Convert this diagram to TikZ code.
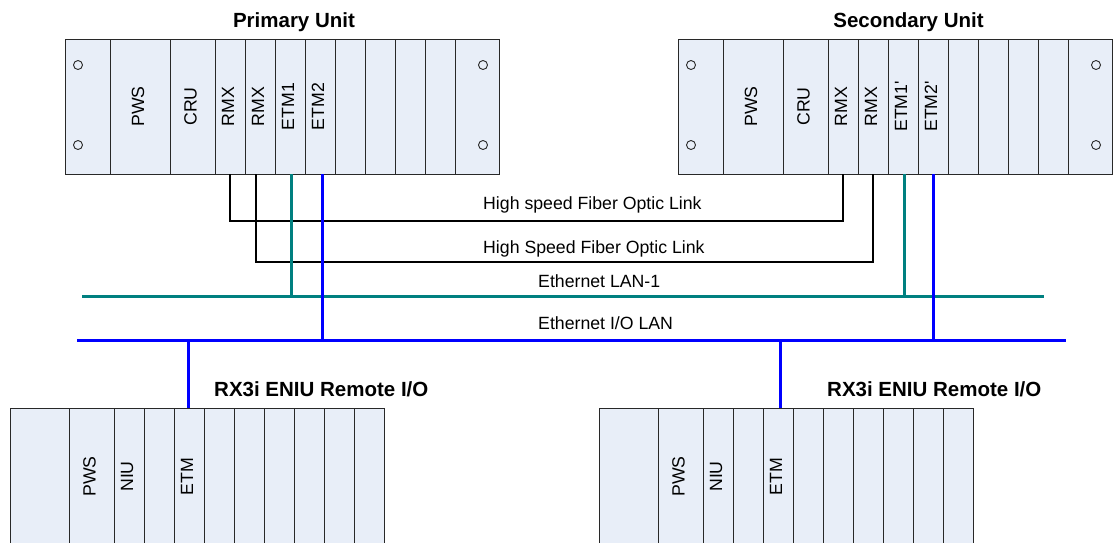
\documentclass[tikz,border=0pt]{standalone}
\usepackage{fontspec}
\setmainfont{Liberation Sans}
\definecolor{slotfill}{RGB}{232,238,248}
\definecolor{slotline}{RGB}{40,40,40}
\definecolor{lanteal}{RGB}{0,128,128}
\definecolor{lanblue}{RGB}{0,0,255}
\newcommand\vlab[1]{\rotatebox{90}{\strut #1}}
\tikzset{
  slot/.style={draw=slotline, fill=slotfill, line width=1pt, anchor=north west,
    inner sep=0pt, outer sep=0pt, minimum height=135pt,
    font=\fontsize{17.7}{20}\selectfont},
  rslot/.style={slot, minimum height=137pt},
  hole/.style={draw=slotline, line width=0.9pt},
  fiber/.style={draw=black, line width=2pt},
  lan1/.style={draw=lanteal, line width=3pt},
  iolan/.style={draw=lanblue, line width=3pt},
  linklab/.style={font=\fontsize{17.7}{20}\selectfont, inner sep=0pt, anchor=base west},
  unittitle/.style={font=\fontsize{20.5}{24}\selectfont\bfseries, inner sep=0pt}
}
\begin{document}
\begin{tikzpicture}[x=1pt,y=-1pt]
\clip (0,0) rectangle (1115,542);
\fill[white] (0,0) rectangle (1115,542);

% ---------- Primary unit ----------
\node[slot, minimum width=45pt] (p1) at (65,39) {};
\node[slot, minimum width=60pt] (p2) at (110,39) {\vlab{PWS}};
\node[slot, minimum width=45pt] (p3) at (170,39) {\vlab{CRU}};
\node[slot, minimum width=30pt] (p4) at (215,39) {\vlab{RMX}};
\node[slot, minimum width=30pt] (p5) at (245,39) {\vlab{RMX}};
\node[slot, minimum width=30pt] (p6) at (275,39) {\vlab{ETM1}};
\node[slot, minimum width=30pt] (p7) at (305,39) {\vlab{ETM2}};
\foreach \i/\x in {8/335,9/365,10/395,11/425}
  \node[slot, minimum width=30pt] (p\i) at (\x,39) {};
\node[slot, minimum width=44pt] (p12) at (455,39) {};
\foreach \x in {78,483} \foreach \y in {65,145} \draw[hole] (\x,\y) circle[radius=4.5pt];

% ---------- Secondary unit ----------
\node[slot, minimum width=45pt] (s1) at (678,39) {};
\node[slot, minimum width=60pt] (s2) at (723,39) {\vlab{PWS}};
\node[slot, minimum width=45pt] (s3) at (783,39) {\vlab{CRU}};
\node[slot, minimum width=30pt] (s4) at (828,39) {\vlab{RMX}};
\node[slot, minimum width=30pt] (s5) at (858,39) {\vlab{RMX}};
\node[slot, minimum width=30pt] (s6) at (888,39) {\vlab{ETM1\textquotesingle}};
\node[slot, minimum width=30pt] (s7) at (918,39) {\vlab{ETM2\textquotesingle}};
\foreach \i/\x in {8/948,9/978,10/1008,11/1038}
  \node[slot, minimum width=30pt] (s\i) at (\x,39) {};
\node[slot, minimum width=44pt] (s12) at (1068,39) {};
\foreach \x in {691,1096} \foreach \y in {65,145} \draw[hole] (\x,\y) circle[radius=4.5pt];

% ---------- Remote I/O 1 ----------
\node[rslot, minimum width=59pt] (a1) at (10,408) {};
\node[rslot, minimum width=45pt] (a2) at (69,408) {\vlab{PWS}};
\node[rslot, minimum width=30pt] (a3) at (114,408) {\vlab{NIU}};
\node[rslot, minimum width=30pt] (a4) at (144,408) {};
\node[rslot, minimum width=30pt] (a5) at (174,408) {\vlab{ETM}};
\foreach \i/\x in {6/204,7/234,8/264,9/294,10/324,11/354}
  \node[rslot, minimum width=30pt] (a\i) at (\x,408) {};

% ---------- Remote I/O 2 ----------
\node[rslot, minimum width=59pt] (b1) at (599,408) {};
\node[rslot, minimum width=45pt] (b2) at (658,408) {\vlab{PWS}};
\node[rslot, minimum width=30pt] (b3) at (703,408) {\vlab{NIU}};
\node[rslot, minimum width=30pt] (b4) at (733,408) {};
\node[rslot, minimum width=30pt] (b5) at (763,408) {\vlab{ETM}};
\foreach \i/\x in {6/793,7/823,8/853,9/883,10/913,11/943}
  \node[rslot, minimum width=30pt] (b\i) at (\x,408) {};

% ---------- Titles ----------
\node[unittitle, anchor=base] (tp) at (294,27) {Primary Unit};
\node[unittitle, anchor=base] (ts) at (908.5,27) {Secondary Unit};
\node[unittitle, anchor=base west] (ta) at (214,396) {RX3i ENIU Remote I/O};
\node[unittitle, anchor=base west] (tb) at (827,396) {RX3i ENIU Remote I/O};

% ---------- Bus coordinates ----------
\coordinate (hs1) at (0,220.5);
\coordinate (hs2) at (0,261.5);
\coordinate (lanW) at (82,296);
\coordinate (lanE) at (1044,296);
\coordinate (ioW) at (77,340.5);
\coordinate (ioE) at (1066,340.5);

% ---------- Fiber links ----------
\draw[fiber] (p4.south) -- (p4.south |- hs1) -- (s4.south |- hs1) -- (s4.south);
\draw[fiber] ([xshift=-4pt]p5.south) -- ([xshift=-4pt]p5.south |- hs2) -- (s5.south |- hs2) -- (s5.south);

% ---------- Ethernet LAN-1 ----------
\draw[lan1] (lanW) -- (lanE);
\draw[lan1] ([xshift=1pt]p6.south) -- ([xshift=1pt]p6.south |- lanW);
\draw[lan1] ([xshift=1pt]s6.south) -- ([xshift=1pt]s6.south |- lanW);

% ---------- Ethernet I/O LAN ----------
\draw[iolan] (ioW) -- (ioE);
\draw[iolan] ([xshift=2pt]p7.south) -- ([xshift=2pt]p7.south |- ioW);
\draw[iolan] (s7.south) -- (s7.south |- ioW);
\draw[iolan] ([xshift=-1pt]a5.north |- ioW) -- ([xshift=-1pt]a5.north);
\draw[iolan] ([xshift=2pt]b5.north |- ioW) -- ([xshift=2pt]b5.north);

% ---------- Link labels ----------
\node[linklab] (l1) at (483,209) {High speed Fiber Optic Link};
\node[linklab] (l2) at (483,253) {High Speed Fiber Optic Link};
\node[linklab] (l3) at (538,287) {Ethernet LAN-1};
\node[linklab] (l4) at (538,329) {Ethernet I/O LAN};
\end{tikzpicture}
\end{document}
